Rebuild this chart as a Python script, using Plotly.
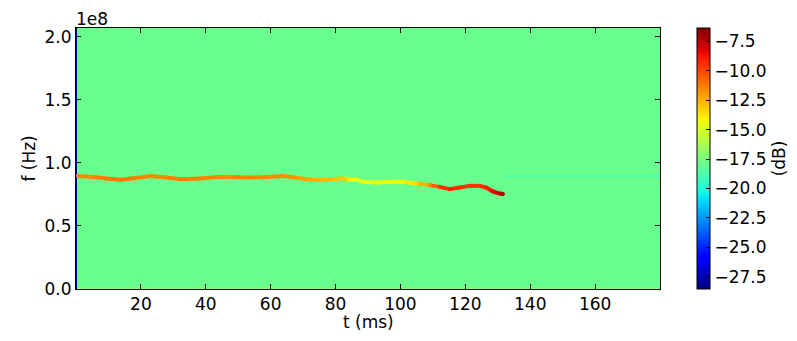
import plotly.graph_objects as go
from plotly.colors import sample_colorscale

# ---------------- data ----------------
# ridge (dominant frequency track)
ridge_t = [0.6, 5.5, 9.6, 13.7, 17.8, 23.0, 28.0, 32.2, 38.3, 43.4, 48.6, 53.7,
           58.8, 63.9, 67.0, 71.1, 75.2, 79.3, 82.4, 84.4, 86.5, 88.5, 92.6, 96.7,
           100.8, 104.9, 109.0, 112.1, 115.2, 118.3, 121.3, 124.4, 126.4, 128.5,
           130.6, 131.6]
ridge_f_1e8 = [0.897, 0.889, 0.876, 0.866, 0.879, 0.897, 0.884, 0.871, 0.876, 0.889,
               0.889, 0.884, 0.889, 0.897, 0.886, 0.871, 0.863, 0.871, 0.879, 0.866,
               0.866, 0.850, 0.844, 0.850, 0.850, 0.836, 0.824, 0.810, 0.792, 0.805,
               0.818, 0.818, 0.805, 0.773, 0.757, 0.753]
ridge_db = [-11.6, -11.4, -11.2, -11.0, -11.3, -11.6, -11.4, -11.2, -11.4, -11.6,
            -11.5, -11.4, -11.5, -11.6, -11.8, -12.2, -12.5, -12.8, -13.2, -14.0,
            -14.4, -14.5, -14.6, -14.4, -14.2, -13.4, -11.6, -9.6, -9.2, -9.4,
            -9.6, -9.4, -9.2, -8.4, -7.6, -7.3]

# background spectrogram level (dB), coarse bands
bg_t_edges = [0, 0.4, 132.5, 180]
bg_f_edges_1e8 = [0, 0.015, 0.888, 0.902, 2.07]
bg_db = [
    [-28.5, -17.4, -17.4],
    [-28.5, -18.0, -18.0],
    [-28.5, -18.0, -18.9],
    [-28.5, -18.0, -18.0],
]

x_ticks = [20, 40, 60, 80, 100, 120, 140, 160]
y_ticks_1e8 = [0.0, 0.5, 1.0, 1.5, 2.0]
cbar_ticks = [-27.5, -25.0, -22.5, -20.0, -17.5, -15.0, -12.5, -10.0, -7.5]
zmin, zmax = -28.55, -6.36

# ---------------- matplotlib-like jet colorscale ----------------
red = [(0, 0), (0.35, 0), (0.66, 1), (0.89, 1), (1, 0.5)]
green = [(0, 0), (0.125, 0), (0.375, 1), (0.64, 1), (0.91, 0), (1, 0)]
blue = [(0, 0.5), (0.11, 1), (0.34, 1), (0.65, 0), (1, 0)]


def interp(seg, x):
    for (x0, v0), (x1, v1) in zip(seg[:-1], seg[1:]):
        if x0 <= x <= x1:
            return v0 + (v1 - v0) * (x - x0) / (x1 - x0) if x1 > x0 else v1
    return seg[-1][1]


stops = sorted(set([s for s, _ in red + green + blue]))
jet = [[s, "rgb(%d,%d,%d)" % (round(255 * interp(red, s)), round(255 * interp(green, s)),
                              round(255 * interp(blue, s)))] for s in stops]

FONT = "DejaVu Sans"
FS = 17
fig = go.Figure()

fig.add_trace(go.Heatmap(
    x=bg_t_edges,
    y=[v * 1e8 for v in bg_f_edges_1e8],
    z=bg_db,
    coloraxis="coloraxis",
    hoverinfo="skip",
))

# ridge drawn as segments, coloured through the same colour scale
for i in range(len(ridge_t) - 1):
    lvl = 0.5 * (ridge_db[i] + ridge_db[i + 1])
    frac = (lvl - zmin) / (zmax - zmin)
    col = sample_colorscale(jet, [frac])[0]
    fig.add_trace(go.Scatter(
        x=[ridge_t[i], ridge_t[i + 1]],
        y=[ridge_f_1e8[i] * 1e8, ridge_f_1e8[i + 1] * 1e8],
        mode="lines", line=dict(color=col, width=4),
        showlegend=False, hoverinfo="skip",
    ))
fig.add_trace(go.Scatter(
    x=ridge_t, y=[v * 1e8 for v in ridge_f_1e8], mode="markers",
    marker=dict(size=4, color=ridge_db, coloraxis="coloraxis", line=dict(width=0)),
    showlegend=False,
))

fig.update_layout(
    width=797, height=341,
    margin=dict(l=76, r=137, t=28, b=52, autoexpand=False),
    paper_bgcolor="white", plot_bgcolor="white",
    font=dict(family=FONT, size=FS, color="black"),
    showlegend=False,
    coloraxis=dict(
        colorscale=jet, cmin=zmin, cmax=zmax,
        colorbar=dict(
            x=1.0634, xanchor="left", xpad=0, ypad=0,
            y=0.5, yanchor="middle", len=1.0, lenmode="fraction",
            thickness=13, thicknessmode="pixels",
            outlinewidth=1, outlinecolor="black",
            tickvals=cbar_ticks, tickformat=".1f",
            ticks="inside", ticklen=4, tickcolor="black",
            tickfont=dict(family=FONT, size=FS, color="black"),
            title=dict(text="(dB)", side="right",
                       font=dict(family=FONT, size=FS, color="black")),
        ),
    ),
    xaxis=dict(
        range=[0, 180], tickvals=x_ticks, ticks="inside", ticklen=5,
        tickcolor="black", showline=True, linecolor="black", linewidth=1,
        mirror="ticks", showgrid=False, zeroline=False,
    ),
    yaxis=dict(
        range=[0, 2.07e8], tickvals=[v * 1e8 for v in y_ticks_1e8],
        ticktext=["%.1f" % v for v in y_ticks_1e8],
        ticks="inside", ticklen=5, tickcolor="black",
        showline=True, linecolor="black", linewidth=1,
        mirror="ticks", showgrid=False, zeroline=False,
    ),
    annotations=[
        dict(text="1e8", xref="paper", yref="paper", x=0, y=1, xanchor="left",
             yanchor="bottom", showarrow=False, yshift=-3, xshift=-2,
             font=dict(family=FONT, size=FS)),
        dict(text="f (Hz)", xref="paper", yref="paper", x=-0.082, y=0.5,
             xanchor="center", yanchor="middle", textangle=-90, showarrow=False,
             font=dict(family=FONT, size=FS)),
        dict(text="t (ms)", xref="paper", yref="paper", x=0.5, y=-0.126,
             xanchor="center", yanchor="middle", showarrow=False,
             font=dict(family=FONT, size=FS)),
    ],
)

fig.write_html("out.html", config={"displayModeBar": False},
               post_script="document.body.style.margin='0px';")
